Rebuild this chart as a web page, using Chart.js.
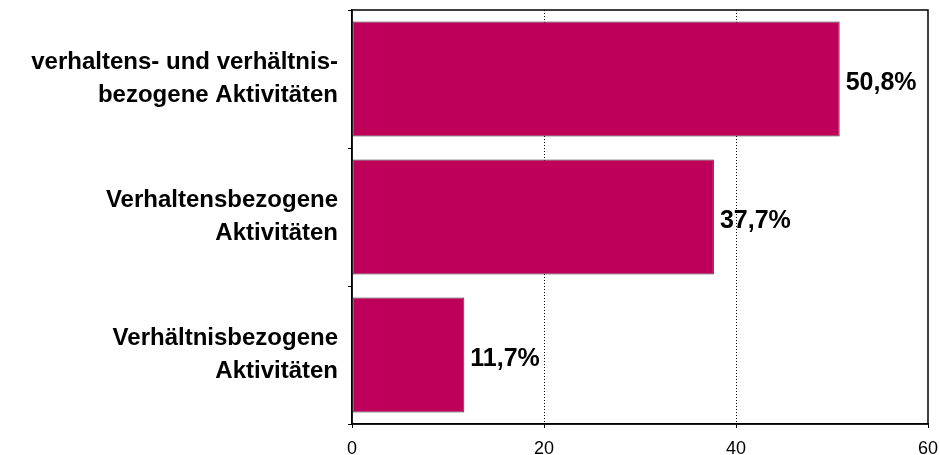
<!DOCTYPE html>
<html>
<head>
<meta charset="utf-8">
<script src="https://cdn.jsdelivr.net/npm/chart.js@4"></script>
<style>
  html, body { margin: 0; padding: 0; background: #fff; }
  #wrap { width: 940px; height: 455px; }
</style>
</head>
<body>
<div id="wrap"><canvas id="chart" width="940" height="455"></canvas></div>
<script>
const categories = [
  ["verhaltens- und verhältnis-", "bezogene Aktivitäten"],
  ["Verhaltensbezogene", "Aktivitäten"],
  ["Verhältnisbezogene", "Aktivitäten"],
];
const values = [50.8, 37.7, 11.7];
const valueLabels = ["50,8%", "37,7%", "11,7%"];
const xTicks = [0, 20, 40, 60];

const FONT = "'Liberation Sans', Arial, sans-serif";

// value labels right of each bar + solid frame around the plot
const barLabels = {
  id: "barLabels",
  beforeDatasetsDraw(chart) {
    const { ctx, chartArea } = chart;
    ctx.save();
    ctx.strokeStyle = "#000";
    ctx.lineWidth = 1.5;
    ctx.strokeRect(chartArea.left, chartArea.top, chartArea.right - chartArea.left, chartArea.bottom - chartArea.top);
    ctx.restore();
  },
  afterDatasetsDraw(chart) {
    const ctx = chart.ctx;
    const meta = chart.getDatasetMeta(0);
    ctx.save();
    ctx.font = "bold 25px " + FONT;
    ctx.fillStyle = "#000";
    ctx.textBaseline = "middle";
    ctx.textAlign = "left";
    meta.data.forEach((bar, i) => {
      ctx.fillText(valueLabels[i], bar.x + 6, bar.y + 4);
    });
    ctx.restore();
  },
};

new Chart(document.getElementById("chart"), {
  type: "bar",
  data: {
    labels: categories,
    datasets: [
      {
        data: values,
        backgroundColor: "#BF005A",
        borderColor: "#3a3a3a",
        borderWidth: 1,
        borderSkipped: false,
        barPercentage: 0.835,
        categoryPercentage: 1,
      },
    ],
  },
  options: {
    indexAxis: "y",
    responsive: false,
    animation: false,
    layout: { padding: { top: 10, right: 12, bottom: 0, left: 0 } },
    plugins: { legend: { display: false }, tooltip: { enabled: false } },
    scales: {
      x: {
        min: 0,
        max: 60,
        afterBuildTicks: (axis) => {
          axis.ticks = xTicks.map((v) => ({ value: v }));
        },
        afterFit: (axis) => {
          axis.height = 31;
          axis.paddingLeft = 0;
          axis.paddingRight = 0;
        },
        border: { display: true, color: "#000", width: 1.5, dash: [1, 2] },
        grid: {
          color: (c) => (c.tick && (c.tick.value === 0 || c.tick.value === 60) ? "rgba(0,0,0,0)" : "#000"),
          tickColor: "#000",
          tickLength: 4,
          tickBorderDash: [],
          lineWidth: 1,
        },
        ticks: {
          color: "#000",
          padding: 10,
          font: { family: FONT, size: 18 },
        },
      },
      y: {
        afterFit: (axis) => {
          axis.width = 352;
          axis.paddingTop = 0;
          axis.paddingBottom = 0;
        },
        border: { display: true, color: "#000", width: 1.5 },
        grid: {
          offset: true,
          drawOnChartArea: false,
          tickColor: "#000",
          tickLength: 4,
        },
        ticks: {
          color: "#000",
          padding: 10,
          font: { family: FONT, size: 24, weight: "bold", lineHeight: 1.38 },
        },
      },
    },
  },
  plugins: [barLabels],
});
</script>
</body>
</html>
